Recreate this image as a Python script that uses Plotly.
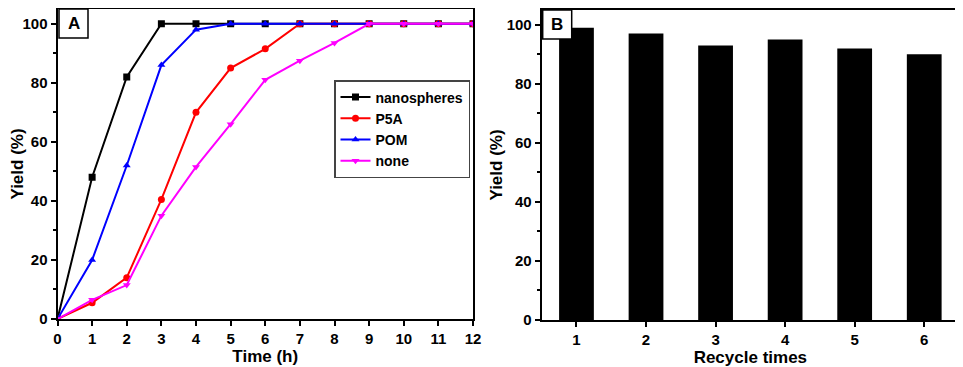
import plotly.graph_objects as go

time_h = list(range(13))
nanospheres = [0, 48, 82, 100, 100, 100, 100, 100, 100, 100, 100, 100, 100]
p5a = [0, 5.5, 14, 40.5, 70, 85, 91.5, 100, 100, 100, 100, 100, 100]
pom = [0, 20, 52, 86, 98, 100, 100, 100, 100, 100, 100, 100, 100]
none_ = [0, 6.5, 11.5, 35, 51.5, 66, 81, 87.5, 93.5, 100, 100, 100, 100]

recycle = [1, 2, 3, 4, 5, 6]
recycle_yield = [99, 97, 93, 95, 92, 90]

# page body has an 8px margin: figure drawn at offset (8, 8)
OFF = 8
W, H = 963 - OFF, 367 - OFF
FONT = "Liberation Sans"

def fx(px):
    return (px - OFF) / W

def fy(py):
    return 1 - (py - OFF) / H

fig = go.Figure()

series = [
    ("nanospheres", nanospheres, "#000000", "square"),
    ("P5A", p5a, "#ff0000", "circle"),
    ("POM", pom, "#0000ff", "triangle-up"),
    ("none", none_, "#ff00ff", "triangle-down"),
]
for name, ys, col, sym in series:
    fig.add_trace(go.Scatter(
        x=time_h, y=ys, name=name, mode="lines+markers",
        line=dict(color=col, width=2),
        marker=dict(symbol=sym, size=7, color=col),
        xaxis="x", yaxis="y",
    ))

fig.add_trace(go.Bar(
    x=recycle, y=recycle_yield, width=0.5,
    marker=dict(color="#000000", line=dict(width=0)),
    showlegend=False, xaxis="x2", yaxis="y2",
))

axis_common = dict(
    showline=True, linecolor="black", linewidth=2, mirror=True,
    ticks="outside", ticklen=5, tickwidth=1.5, tickcolor="black",
    showgrid=False, zeroline=False, automargin=False,
    tickfont=dict(family=FONT, size=15, color="black", weight="bold"),
)
title_font = dict(family=FONT, size=17, color="black", weight="bold")
minor = dict(dtick=10, ticks="outside", ticklen=3, tickcolor="black", tickwidth=1.5)

fig.update_layout(
    width=W, height=H,
    margin=dict(l=0, r=0, t=0, b=0, autoexpand=False),
    paper_bgcolor="white", plot_bgcolor="white",
    font=dict(family=FONT, color="black"),
    xaxis=dict(
        domain=[fx(57.5), fx(473)], anchor="y", range=[0, 12], dtick=1,
        title=dict(text="Time (h)", font=title_font, standoff=1),
        **axis_common,
    ),
    yaxis=dict(
        domain=[fy(319), fy(9)], anchor="x", range=[0, 105], dtick=20,
        title=dict(text="Yield (%)", font=title_font, standoff=6),
        minor=minor,
        **axis_common,
    ),
    xaxis2=dict(
        domain=[fx(541.7), fx(959)], anchor="y2", range=[0.5, 6.5], dtick=1,
        title=dict(text="Recycle times", font=title_font, standoff=1),
        **axis_common,
    ),
    yaxis2=dict(
        domain=[fy(320), fy(10)], anchor="x2", range=[0, 105], dtick=20,
        title=dict(text="Yield (%)", font=title_font, standoff=0),
        minor=minor,
        **axis_common,
    ),
    legend=dict(
        x=fx(334), y=fy(80), xanchor="left", yanchor="top",
        bordercolor="#444444", borderwidth=1.5, bgcolor="white",
        font=dict(family=FONT, size=14, color="black", weight="bold"),
        tracegroupgap=0, itemwidth=30,
    ),
)

# selection box around first legend sample (as in the original figure)
fig.add_shape(type="rect", xref="paper", yref="paper",
              x0=fx(336), x1=fx(370), y0=fy(106), y1=fy(89),
              line=dict(color="#ff4040", width=1), layer="above")

# panel labels
for x0, x1, y0, y1, lab in [
    (59, 88, 9, 38, "A"),
    (542.7, 571.7, 10, 39, "B"),
]:
    fig.add_shape(type="rect", xref="paper", yref="paper",
                  x0=fx(x0), x1=fx(x1), y0=fy(y1), y1=fy(y0),
                  line=dict(color="black", width=1.5), fillcolor="white", layer="above")
    fig.add_annotation(xref="paper", yref="paper", x=fx((x0 + x1) / 2), y=fy((y0 + y1) / 2),
                       text=lab, showarrow=False, xanchor="center", yanchor="middle",
                       font=dict(family=FONT, size=17, color="black", weight="bold"))

fig.write_html("out.html")
